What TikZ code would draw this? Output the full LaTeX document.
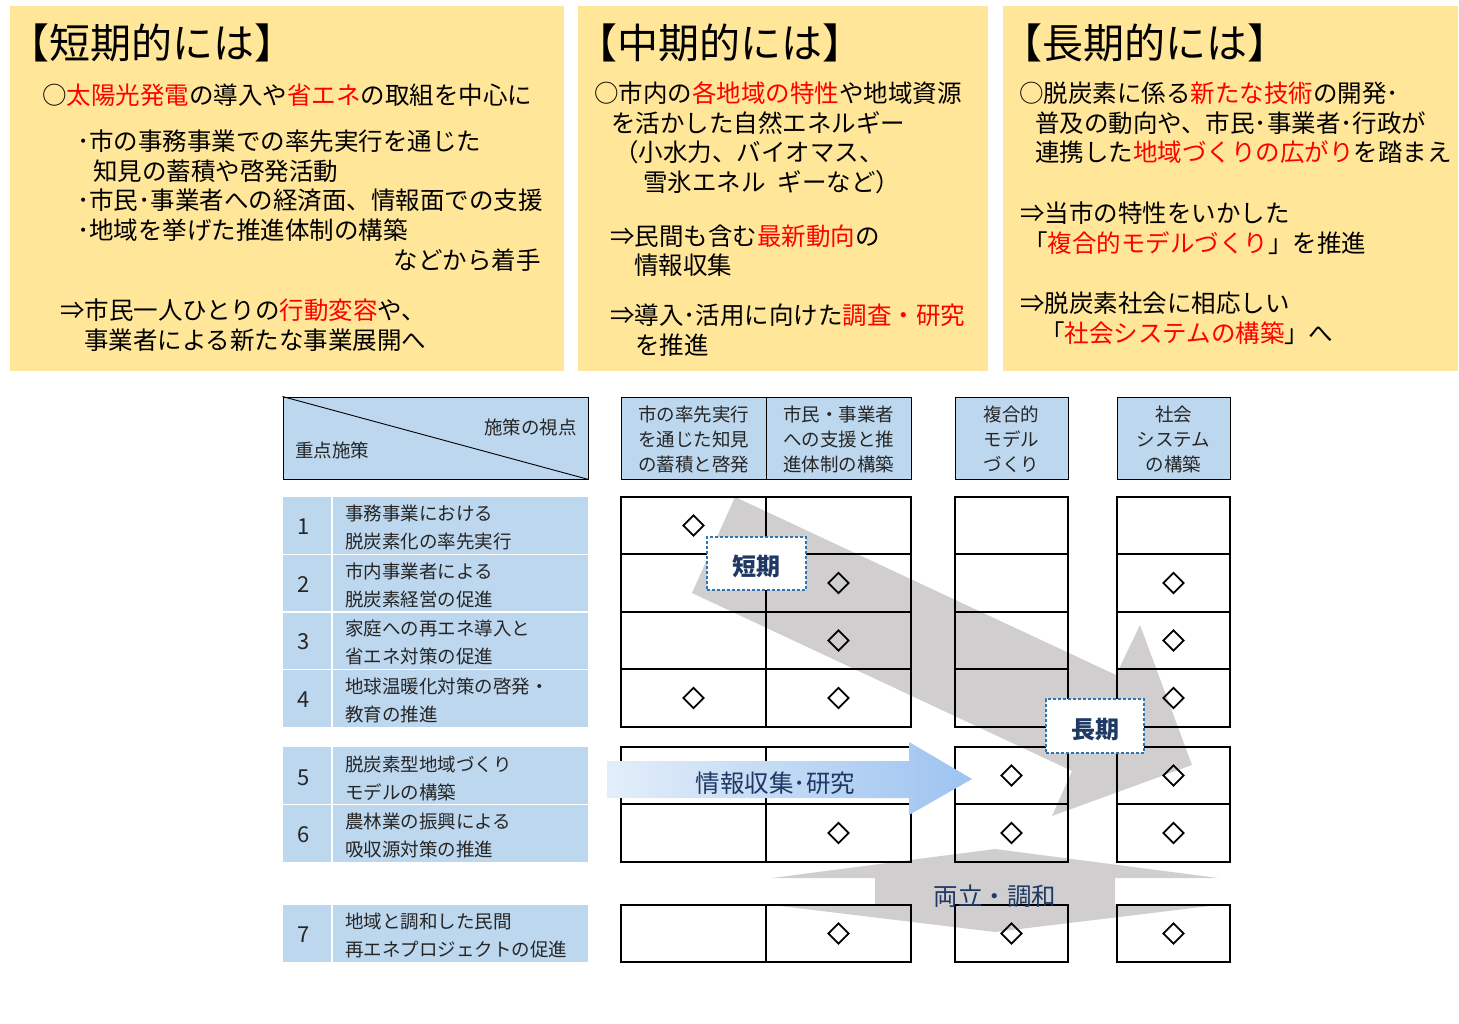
\documentclass[tikz,border=0pt]{standalone}
\usepackage{fontspec}
\setmainfont{Noto Sans CJK JP}
\usetikzlibrary{shapes.geometric}
\newcommand{\fsz}[1]{\fontsize{#1}{#1}\selectfont}
\definecolor{ylw}{HTML}{FFE699}
\definecolor{lblue}{HTML}{BDD7EE}
\definecolor{gry}{HTML}{D0CECE}
\definecolor{navy}{HTML}{1F3864}
\definecolor{rd}{HTML}{FF0000}
\definecolor{dashblue}{HTML}{2E75B6}
\definecolor{arL}{HTML}{E3EEFA}
\definecolor{arR}{HTML}{9DC3F0}
\definecolor{tgray}{HTML}{262626}
\newcommand{\rtx}[1]{\textcolor{rd}{#1}}
\begin{document}
\begin{tikzpicture}[x=1pt,y=-1pt,
  ybox/.style={fill=ylw, draw=none, inner sep=0, minimum height=365},
  ttl/.style={anchor=base west, inner sep=0, font=\fsz{41}},
  bt/.style={anchor=base west, inner sep=0, font=\fsz{24.5}},
  tt/.style={anchor=base west, inner sep=0, font=\fsz{18.5}, text=tgray},
  ht/.style={anchor=base, inner sep=0, font=\fsz{18.5}, text=tgray},
  numt/.style={anchor=center, inner sep=0, font=\fsz{22}, text=tgray},
  hbox/.style={draw=black, fill=lblue, line width=0.9, inner sep=0, minimum height=82},
  gridline/.style={draw=black, line width=1.1},
  dia/.style={diamond, draw=black, line width=1.7, inner sep=0, minimum width=21, minimum height=21},
  lab/.style={draw=dashblue, fill=white, dash pattern=on 3pt off 2pt, line width=1.3, inner sep=0,
    text height=26, text depth=2, font=\fsz{24}\bfseries, text=navy}
]
\useasboundingbox (0,0) rectangle (1459,1024);

% ---- top yellow boxes ----
\node[ybox, minimum width=554] (yb1) at (287,188.5) {};
\node[ybox, minimum width=410] (yb2) at (783,188.5) {};
\node[ybox, minimum width=455] (yb3) at (1230.5,188.5) {};

% box 1
\node[ttl] (t1) at (8,58.6) {【短期的には】};
\node[bt] (a1) at (42,104.3) {○\rtx{太陽光発電}の導入や\rtx{省エネ}の取組を中心に};
\node[bt] (a2) at (77,150.3) {･市の事務事業での率先実行を通じた};
\node[bt] (a3) at (93,180.3) {知見の蓄積や啓発活動};
\node[bt] (a4) at (77,209.3) {･市民･事業者への経済面、情報面での支援};
\node[bt] (a5) at (77,239.3) {･地域を挙げた推進体制の構築};
\node[bt, anchor=base east] (a6) at (541,269.3) {などから着手};
\node[bt] (a7) at (60,319.3) {⇒市民一人ひとりの\rtx{行動変容}や、};
\node[bt] (a8) at (84,349.3) {事業者による新たな事業展開へ};

% box 2
\node[ttl] (t2) at (576,58.6) {【中期的には】};
\node[bt] (m1) at (594,102.3) {○市内の\rtx{各地域の特性}や地域資源};
\node[bt] (m2) at (611,132.3) {を活かした自然エネルギー};
\node[bt] (m3) at (614,161.3) {（小水力、バイオマス、};
\node[bt] (m4) at (643,191.3) {雪氷エネル\hspace{0.5em}ギーなど）};
\node[bt] (m5) at (610,245.3) {⇒民間も含む\rtx{最新動向}の};
\node[bt] (m6) at (634,274.3) {情報収集};
\node[bt] (m7) at (610,324.3) {⇒導入･活用に向けた\rtx{調査・研究}};
\node[bt] (m8) at (635,354.3) {を推進};

% box 3
\node[ttl] (t3) at (1001,58.6) {【長期的には】};
\node[bt] (l1) at (1019,102.3) {○脱炭素に係る\rtx{新たな技術}の開発･};
\node[bt] (l2) at (1035,132.3) {普及の動向や、市民･事業者･行政が};
\node[bt] (l3) at (1035,161.3) {連携した\rtx{地域づくりの広がり}を踏まえ};
\node[bt] (l4) at (1020,222.3) {⇒当市の特性をいかした};
\node[bt] (l5) at (1023,252.3) {「\rtx{複合的モデルづくり}」を推進};
\node[bt] (l6) at (1020,312.3) {⇒脱炭素社会に相応しい};
\node[bt] (l7) at (1040,342.3) {「\rtx{社会システムの構築}」へ};

% ---- table header ----
\node[hbox, minimum width=305] (hd0) at (435.5,438) {};
\draw[line width=0.9] (hd0.north west) -- (hd0.south east);
\node[tt, anchor=base east] (hv) at (577,434) {施策の視点};
\node[tt] (hk) at (295,457) {重点施策};

\node[hbox, minimum width=145] (h1) at (693.5,438) {};
\node[hbox, minimum width=145] (h2) at (838.5,438) {};
\node[hbox, minimum width=113] (h3) at (1011.5,438) {};
\node[hbox, minimum width=113] (h4) at (1173.5,438) {};
\node[ht] (h1a) at (693.5,421) {市の率先実行};
\node[ht] (h1b) at (693.5,446) {を通じた知見};
\node[ht] (h1c) at (693.5,471) {の蓄積と啓発};
\node[ht] (h2a) at (838.5,421) {市民・事業者};
\node[ht] (h2b) at (838.5,446) {への支援と推};
\node[ht] (h2c) at (838.5,471) {進体制の構築};
\node[ht] (h3a) at (1011.5,421) {複合的};
\node[ht] (h3b) at (1011.5,446) {モデル};
\node[ht] (h3c) at (1011.5,471) {づくり};
\node[ht] (h4a) at (1173.5,421) {社会};
\node[ht] (h4b) at (1173.5,446) {システム};
\node[ht] (h4c) at (1173.5,471) {の構築};

% ---- left table (blue) ----
\fill[lblue] (283,497) rectangle (588,727);
\fill[lblue] (283,747) rectangle (588,862);
\fill[lblue] (283,905) rectangle (588,962);
\foreach \yy in {554.5,612,669.5,804.5}{
  \draw[white, line width=1.6] (283,\yy) -- (588,\yy);
}
\draw[white, line width=1.6] (332,497) -- (332,727);
\draw[white, line width=1.6] (332,747) -- (332,862);
\draw[white, line width=1.6] (332,905) -- (332,962);

\foreach \t/\n/\la/\lb in {497/1/事務事業における/脱炭素化の率先実行,
  555/2/市内事業者による/脱炭素経営の促進,
  612/3/家庭への再エネ導入と/省エネ対策の促進,
  670/4/地球温暖化対策の啓発・/教育の推進,
  748/5/脱炭素型地域づくり/モデルの構築,
  805/6/農林業の振興による/吸収源対策の推進,
  905/7/地域と調和した民間/再エネプロジェクトの促進}{
  \node[numt] (num\n) at (304,{\t+30}) {\n};
  \node[tt] (ra\n) at (345,{\t+23}) {\la};
  \node[tt] (rb\n) at (345,{\t+51}) {\lb};
}

% ---- gray arrows (under grid lines) ----
\fill[gry] (735,497) -- (1116,675) -- (1140,625) -- (1192,765) -- (1052,816)
  -- (1072,771) -- (692,593) -- cycle;
\fill[gry] (772,878) -- (995,849) -- (1218,878) -- (1115,878) -- (1115,905)
  -- (1218,905) -- (995,932) -- (772,905) -- (875,905) -- (875,878) -- cycle;

% ---- grid ----
\foreach \t/\b in {497/554,554/612,612/669,669/727,747/804,804/862,905/962}{
  \draw[gridline] (621,\t) rectangle (766,\b);
  \draw[gridline] (766,\t) rectangle (911,\b);
  \draw[gridline] (955,\t) rectangle (1068,\b);
  \draw[gridline] (1117,\t) rectangle (1230,\b);
}
\foreach \yy in {612,747}{
  \draw[line width=2] (621,\yy) -- (911,\yy);
  \draw[line width=2] (955,\yy) -- (1068,\yy);
  \draw[line width=2] (1117,\yy) -- (1230,\yy);
}

% ---- diamonds ----
\node[dia] (d11) at (693.5,525.5) {};
\node[dia] (d22) at (838.5,583) {};
\node[dia] (d24) at (1173.5,583) {};
\node[dia] (d32) at (838.5,640.5) {};
\node[dia] (d34) at (1173.5,640.5) {};
\node[dia] (d41) at (693.5,698) {};
\node[dia] (d42) at (838.5,698) {};
\node[dia] (d44) at (1173.5,698) {};
\node[dia] (d53) at (1011.5,775.5) {};
\node[dia] (d54) at (1173.5,775.5) {};
\node[dia] (d62) at (838.5,833) {};
\node[dia] (d63) at (1011.5,833) {};
\node[dia] (d64) at (1173.5,833) {};
\node[dia] (d72) at (838.5,933.5) {};
\node[dia] (d73) at (1011.5,933.5) {};
\node[dia] (d74) at (1173.5,933.5) {};

% ---- blue arrow ----
\shade[left color=arL, right color=arR] (607,761) -- (909,761) -- (909,742) -- (972,779)
  -- (909,815) -- (909,798) -- (607,798) -- cycle;
\node[bt, anchor=base, text=navy] (ir) at (775.5,792.8) {情報収集･研究};

% ---- 両立・調和 ----
\node[bt, anchor=base, text=navy] (ry) at (995,905.3) {両立・調和};

% ---- labels ----
\node[lab, minimum width=99, minimum height=53] (sk) at (756.5,563.5) {短期};
\node[lab, minimum width=98, minimum height=54] (lk) at (1095,726) {長期};
\end{tikzpicture}
\end{document}
